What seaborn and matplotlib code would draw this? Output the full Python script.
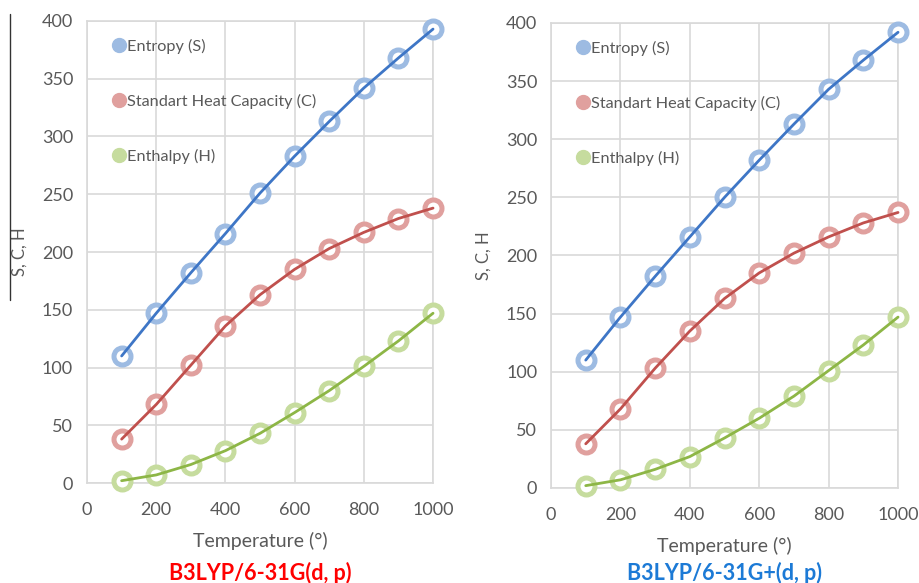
import matplotlib
matplotlib.use("Agg")
import matplotlib.pyplot as plt
from matplotlib.lines import Line2D
import seaborn as sns
import pandas as pd

sns.set_theme(style="white")
plt.rcParams['font.family'] = ['Lato', 'DejaVu Sans']

temperature = [100, 200, 300, 400, 500, 600, 700, 800, 900, 1000]

entropy_631g = [110, 147, 182, 216, 251, 283, 313, 342, 368, 393]
heatcap_631g = [38, 68, 102, 136, 163, 185, 203, 217, 229, 238]
enthalpy_631g = [2, 7, 16, 28, 43, 61, 80, 101, 123, 147]

entropy_631gp = [110, 147, 182, 216, 250, 282, 313, 343, 368, 392]
heatcap_631gp = [38, 68, 103, 135, 163, 185, 202, 216, 228, 237]
enthalpy_631gp = [2, 7, 16, 27, 43, 60, 79, 101, 123, 147]

series_names = ["Entropy (S)", "Standart Heat Capacity (C)", "Enthalpy (H)"]
line_colors = ["#3E76C6", "#C0504D", "#8DB646"]
marker_colors = ["#9DBBE2", "#E0A09E", "#C6DC9E"]

panel_titles = ["B3LYP/6-31G(d, p)", "B3LYP/6-31G+(d, p)"]
title_colors = ["#FF0000", "#1C7AD6"]
x_ticks = [0, 200, 400, 600, 800, 1000]
y_ticks = [0, 50, 100, 150, 200, 250, 300, 350, 400]

panels = [
    [entropy_631g, heatcap_631g, enthalpy_631g],
    [entropy_631gp, heatcap_631gp, enthalpy_631gp],
]

fig = plt.figure(figsize=(9.19, 5.83), dpi=100)
positions = [[0.0947, 0.1715, 0.3765, 0.7925], [0.5996, 0.1630, 0.3776, 0.7976]]
text_gray = "#595959"
grid_gray = "#D9D9D9"

for pi, (pos, data) in enumerate(zip(positions, panels)):
    ax = fig.add_axes(pos)
    for name, vals, lc, mc in zip(series_names, data, line_colors, marker_colors):
        df = pd.DataFrame({"T": temperature, "v": vals})
        ax.plot([], [], linestyle="none", marker="o", markersize=10,
                markerfacecolor=mc, markeredgecolor=mc, label=name)
        sns.scatterplot(data=df, x="T", y="v", ax=ax, s=150, facecolor="white",
                        edgecolor=mc, linewidth=3.6, zorder=3, legend=False,
                        clip_on=False)
        sns.lineplot(data=df, x="T", y="v", ax=ax, color=lc, linewidth=2.0,
                     zorder=4, legend=False, clip_on=False)
    ax.set_xlim(0, 1000)
    ax.set_ylim(0, 400)
    ax.set_xticks(x_ticks)
    ax.set_yticks(y_ticks)
    ax.grid(True, color=grid_gray, linewidth=1.2)
    ax.set_axisbelow(True)
    for sp in ax.spines.values():
        sp.set_color(grid_gray)
        sp.set_linewidth(1.2)
    ax.tick_params(axis="y", length=0, labelsize=13, colors=text_gray, pad=10)
    ax.tick_params(axis="x", length=0, labelsize=13, colors=text_gray, pad=14)
    ax.set_xlabel("Temperature (°)", fontsize=14, color=text_gray, labelpad=10)
    ax.set_ylabel("S, C, H", fontsize=12, color=text_gray, labelpad=10)
    leg = ax.legend(loc="upper left", frameon=False, fontsize=11.7,
                    labelcolor=text_gray, handletextpad=-0.1, handlelength=1.2,
                    labelspacing=2.45, bbox_to_anchor=(0.045, 0.975), borderaxespad=0)
    for t in leg.get_texts():
        t.set_color(text_gray)
    cx = pos[0] + pos[2] * 0.5
    fig.text(cx, 0.018, panel_titles[pi], ha="center", va="center", fontsize=15.5,
             fontweight="bold", color=title_colors[pi])

fig.add_artist(Line2D([10 / 919, 10 / 919], [1 - 14 / 583, 1 - 300 / 583],
                      color="#333333", linewidth=1.0))

fig.savefig("out.png", dpi=100)
